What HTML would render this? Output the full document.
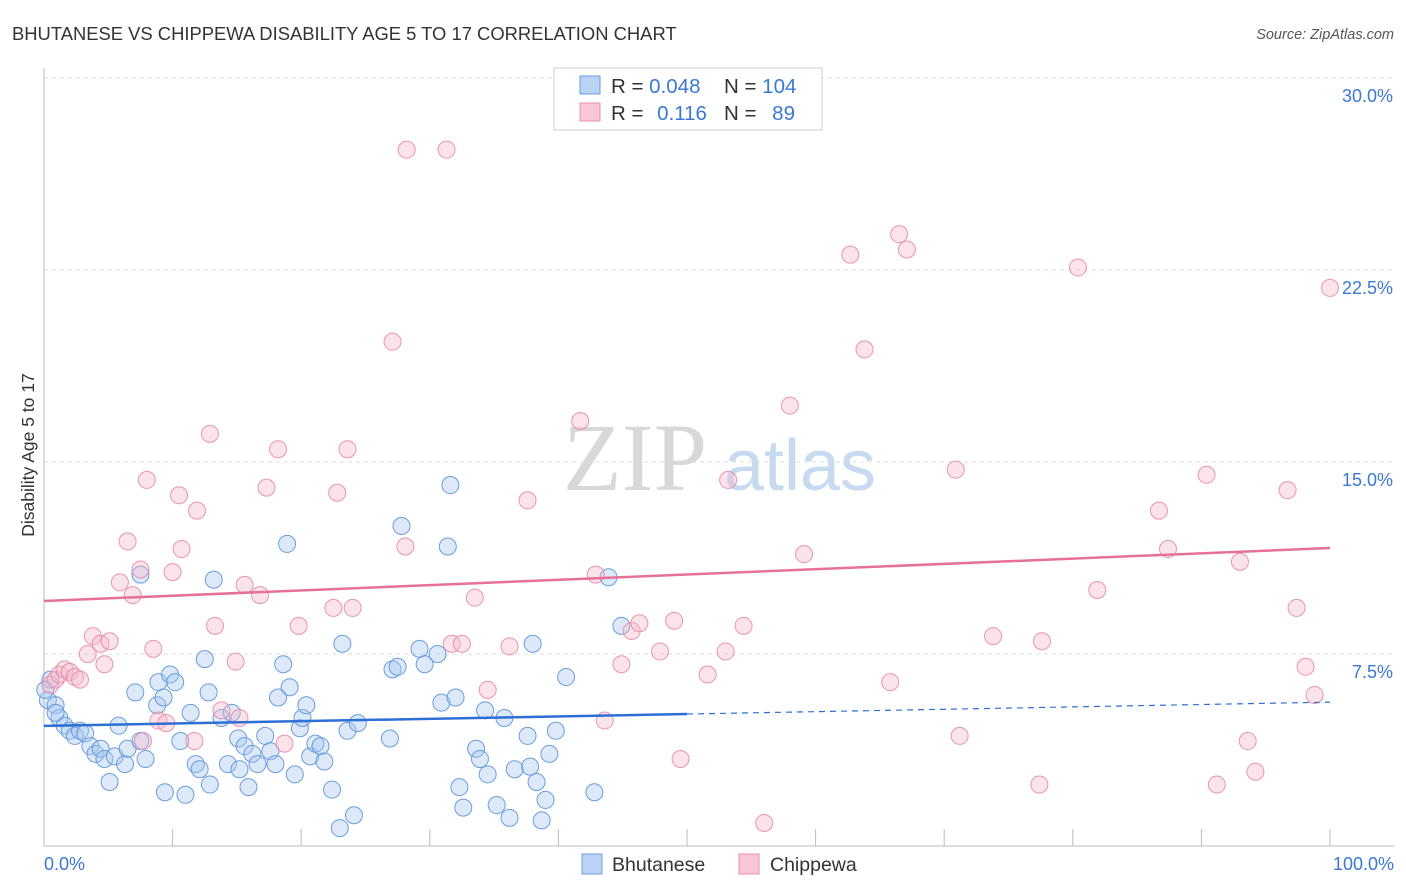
<!DOCTYPE html>
<html><head><meta charset="utf-8"><style>
body{margin:0;background:#fff;font-family:"Liberation Sans",sans-serif;}
svg{display:block}
</style></head><body>
<svg id="chart" width="1406" height="892">
<text x="12" y="40" font-size="18.4" fill="#333">BHUTANESE VS CHIPPEWA DISABILITY AGE 5 TO 17 CORRELATION CHART</text>
<text x="1394" y="39" font-size="14.5" fill="#555" font-style="italic" text-anchor="end">Source: ZipAtlas.com</text>
<text x="0" y="0" transform="translate(34,455) rotate(-90)" font-size="17.5" fill="#333" text-anchor="middle">Disability Age 5 to 17</text>
<g>
<text x="635" y="490" font-size="96" font-family="Liberation Serif,serif" fill="#d8d8d8" text-anchor="middle">ZIP</text>
<text x="800" y="490" font-size="72" fill="#c8daf0" text-anchor="middle">atlas</text>
</g>
<g id="grid"></g><g id="axes"></g><g id="pts"></g><g id="trend"></g>
<g>
<rect x="554" y="68" width="268" height="62" fill="#fff" stroke="#ccc"/>
<rect x="580" y="76" width="20" height="18" fill="#b8d3f4" stroke="#6a9be0"/>
<rect x="580" y="103" width="20" height="18" fill="#f9c6d5" stroke="#ec93b0"/>
<text x="611" y="93" font-size="20.5" fill="#333">R = <tspan fill="#3a78d4">0.048</tspan></text>
<text x="724" y="93" font-size="20.5" fill="#333">N = <tspan fill="#3a78d4">104</tspan></text>
<text x="611" y="120" font-size="20.5" fill="#333">R = <tspan fill="#3a78d4" dx="8">0.116</tspan></text>
<text x="724" y="120" font-size="20.5" fill="#333">N = <tspan fill="#3a78d4" dx="10">89</tspan></text>
</g>
<g>
<rect x="582" y="854" width="20" height="20" fill="#b8d3f4" stroke="#6a9be0"/>
<text x="612" y="871" font-size="19.5" fill="#333">Bhutanese</text>
<rect x="739" y="854" width="20" height="20" fill="#f9c6d5" stroke="#ec93b0"/>
<text x="770" y="871" font-size="19.5" fill="#333">Chippewa</text>
</g>
</svg>
<script>
const yTicks=[7.5,15,22.5,30];
const yTickLabels=["7.5%","15.0%","22.5%","30.0%"];
const xTickLabels=["0.0%","100.0%"];
const blueX=[0.5,0.3,0.9,1.2,1.6,2.0,2.4,2.8,3.2,3.6,4.0,4.4,4.7,5.1,5.5,5.8,6.3,6.5,7.1,7.5,7.5,7.9,8.8,8.9,9.3,9.4,9.8,10.2,10.6,11.0,11.4,11.8,12.1,12.5,12.8,12.9,13.2,13.8,14.3,14.6,15.1,15.2,15.6,15.9,16.2,16.6,17.2,17.6,18.0,18.2,18.6,18.9,19.1,19.5,19.9,20.1,20.4,20.7,21.1,21.5,21.8,22.4,23.0,23.2,23.6,24.1,24.4,26.9,27.1,27.5,27.8,29.2,29.6,30.6,30.9,31.6,31.4,32.0,32.3,32.6,33.6,33.9,34.3,34.5,35.2,35.8,36.2,36.6,37.6,37.8,38.0,38.3,38.7,39.0,39.3,39.8,40.6,42.8,43.9,44.9,0.1,0.9];
const blueY=[6.5,5.7,5.5,5.0,4.7,4.5,4.3,4.5,4.4,3.9,3.6,3.8,3.4,2.5,3.5,4.7,3.2,3.8,6.0,4.1,10.6,3.4,5.5,6.4,5.8,2.1,6.7,6.4,4.1,2.0,5.2,3.2,3.0,7.3,6.0,2.4,10.4,5.0,3.2,5.2,4.2,3.0,3.9,2.3,3.6,3.2,4.3,3.7,3.2,5.8,7.1,11.8,6.2,2.8,4.6,5.0,5.5,3.5,4.0,3.9,3.3,2.2,0.7,7.9,4.5,1.2,4.8,4.2,6.9,7.0,12.5,7.7,7.1,7.5,5.6,14.1,11.7,5.8,2.3,1.5,3.8,3.4,5.3,2.8,1.6,5.0,1.1,3.0,4.3,3.1,7.9,2.5,1.0,1.8,3.6,4.5,6.6,2.1,10.5,8.6,6.1,5.2];
const pinkX=[0.5,0.9,1.2,1.6,2.0,2.4,2.8,3.4,3.8,4.4,4.7,5.1,5.9,6.5,6.9,7.5,7.7,8.0,8.5,8.9,9.5,10.0,10.5,10.7,11.7,11.9,12.9,13.3,13.8,14.9,15.2,15.6,16.8,17.3,18.2,18.7,19.8,22.5,22.8,23.6,24.0,27.1,28.1,28.2,31.3,31.7,32.5,33.5,34.5,36.2,37.6,41.7,42.9,43.6,44.9,45.7,46.3,47.9,49.0,49.5,51.6,53.0,53.2,54.4,56.0,58.0,59.1,62.7,63.8,65.8,66.5,67.1,70.9,71.2,73.8,77.4,77.6,80.4,81.9,86.7,87.4,90.4,91.2,93.0,93.6,94.2,96.7,97.4,98.1,98.8,100.0];
const pinkY=[6.3,6.5,6.7,6.9,6.8,6.6,6.5,7.5,8.2,7.9,7.1,8.0,10.3,11.9,9.8,10.8,4.1,14.3,7.7,4.9,4.8,10.7,13.7,11.6,4.1,13.1,16.1,8.6,5.3,7.2,5.0,10.2,9.8,14.0,15.5,4.0,8.6,9.3,13.8,15.5,9.3,19.7,11.7,27.2,27.2,7.9,7.9,9.7,6.1,7.8,13.5,16.6,10.6,4.9,7.1,8.4,8.7,7.6,8.8,3.4,6.7,7.6,14.3,8.6,0.9,17.2,11.4,23.1,19.4,6.4,23.9,23.3,14.7,4.3,8.2,2.4,8.0,22.6,10.0,13.1,11.6,14.5,2.4,11.1,4.1,2.9,13.9,9.3,7.0,5.9,21.8];
const blueTrend=[4.69,5.62];
const pinkTrend=[9.57,11.64];
const NS="http://www.w3.org/2000/svg";
const X=v=>44+v*12.86, Y=v=>846-v*25.6;
function mk(tag,attrs,parent){const e=document.createElementNS(NS,tag);for(const k in attrs)e.setAttribute(k,attrs[k]);document.getElementById(parent).appendChild(e);return e;}
yTicks.forEach((t,i)=>{
 const l=mk('line',{x1:44,x2:1394,y1:Y(t),y2:Y(t),stroke:'#ddd','stroke-dasharray':'4,4'},'grid');
 
 
 const tx=mk('text',{x:1393,y:Y(t)+24,'font-size':18,fill:'#3a78d4','text-anchor':'end'},'axes');
 tx.textContent=yTickLabels[i];
 
 
});
const ax=mk('line',{x1:44,x2:44,y1:68,y2:846,stroke:'#bbb'},'axes');


const bx=mk('line',{x1:44,x2:1394,y1:846,y2:846,stroke:'#bbb'},'axes');


for(let i=0;i<=10;i++){const t=mk('line',{x1:X(i*10),x2:X(i*10),y1:829,y2:846,stroke:'#bbb'},'axes');
 
 }
[[0,'start',44],[100,'end',1394]].forEach((d,i)=>{const t=mk('text',{x:d[2],y:870,'font-size':18,fill:'#3a78d4','text-anchor':d[1]},'axes');t.textContent=xTickLabels[i];
 
 });
function pts(xs,ys,fill,stroke,name){xs.forEach((x,i)=>{const c=mk('circle',{cx:X(x),cy:Y(ys[i]),r:8.5,fill:fill,'fill-opacity':0.4,stroke:stroke,'stroke-width':1,'stroke-opacity':0.9},'pts');
 
 });}
pts(blueX,blueY,'#a9c8ef','#5b93dc','bhutanese-point');
pts(pinkX,pinkY,'#f6b8cb','#e88aa8','chippewa-point');
const bm=blueTrend[0]+(blueTrend[1]-blueTrend[0])*0.5;
const t1=mk('line',{x1:X(0),y1:Y(blueTrend[0]),x2:X(50),y2:Y(bm),stroke:'#2e6fd6','stroke-width':2.5},'trend');


const t2=mk('line',{x1:X(50),y1:Y(bm),x2:X(100),y2:Y(blueTrend[1]),stroke:'#2e6fd6','stroke-width':1.2,'stroke-dasharray':'6,5'},'trend');


const t3=mk('line',{x1:X(0),y1:Y(pinkTrend[0]),x2:X(100),y2:Y(pinkTrend[1]),stroke:'#e5709a','stroke-width':2.5},'trend');


</script>
</body></html>
